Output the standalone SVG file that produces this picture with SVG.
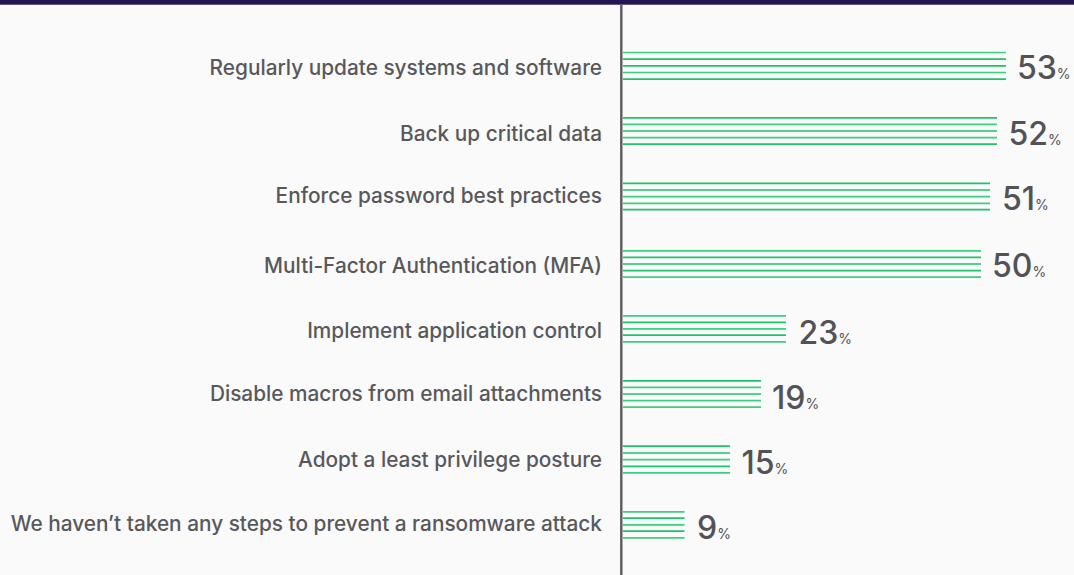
<svg xmlns="http://www.w3.org/2000/svg" width="1074" height="575" viewBox="0 0 1074 575">
<style>
.lbl{font-family:Inter,"Noto Sans",sans-serif;font-size:20.8px;font-weight:500;fill:#58585c;text-anchor:end}
.num{font-family:Inter,"Noto Sans",sans-serif;font-size:32px;font-weight:500;fill:#525257}
.pct{font-size:14px;font-weight:400}
.bar line{stroke:#1ec36b;stroke-width:1.7}
.bar line.l{stroke:#3ccf81}
</style>
<rect x="0" y="0" width="1074" height="575" fill="#fafafa"/>
<rect x="0" y="0" width="1074" height="4.7" fill="#231552"/>
<g id="connectors">
<line x1="621.3" y1="4.7" x2="621.3" y2="575" stroke="#5b5b60" stroke-width="2.4"/>
</g>
<g id="row1">
<text class="lbl" x="602" y="75">Regularly update systems and software</text>
<g class="bar"><line class="l" x1="623" y1="52.5" x2="1006" y2="52.5"/><line x1="623" y1="59.2" x2="1006" y2="59.2"/><line x1="623" y1="65.8" x2="1006" y2="65.8"/><line class="l" x1="623" y1="72.5" x2="1006" y2="72.5"/><line x1="623" y1="79.2" x2="1006" y2="79.2"/></g>
<text class="num" x="1017" y="79">53<tspan class="pct">%</tspan></text>
</g>
<g id="row2">
<text class="lbl" x="602" y="140.5">Back up critical data</text>
<g class="bar"><line x1="623" y1="117.8" x2="997" y2="117.8"/><line class="l" x1="623" y1="124.4" x2="997" y2="124.4"/><line x1="623" y1="131" x2="997" y2="131"/><line class="l" x1="623" y1="137.7" x2="997" y2="137.7"/><line x1="623" y1="144.2" x2="997" y2="144.2"/></g>
<text class="num" x="1008.5" y="145">52<tspan class="pct">%</tspan></text>
</g>
<g id="row3">
<text class="lbl" x="602" y="203">Enforce password best practices</text>
<g class="bar"><line x1="623" y1="183.4" x2="990" y2="183.4"/><line x1="623" y1="190" x2="990" y2="190"/><line class="l" x1="623" y1="196.7" x2="990" y2="196.7"/><line class="l" x1="623" y1="203.3" x2="990" y2="203.3"/><line x1="623" y1="209.6" x2="990" y2="209.6"/></g>
<text class="num" x="1002" y="209.5">51<tspan class="pct">%</tspan></text>
</g>
<g id="row4">
<text class="lbl" x="602" y="273">Multi-Factor Authentication (MFA)</text>
<g class="bar"><line class="l" x1="623" y1="250.8" x2="981" y2="250.8"/><line x1="623" y1="257.3" x2="981" y2="257.3"/><line x1="623" y1="264" x2="981" y2="264"/><line x1="623" y1="270.7" x2="981" y2="270.7"/><line class="l" x1="623" y1="277.2" x2="981" y2="277.2"/></g>
<text class="num" x="992" y="277">50<tspan class="pct">%</tspan></text>
</g>
<g id="row5">
<text class="lbl" x="602" y="338">Implement application control</text>
<g class="bar"><line class="l" x1="623" y1="315.8" x2="786" y2="315.8"/><line x1="623" y1="322.3" x2="786" y2="322.3"/><line class="l" x1="623" y1="328.8" x2="786" y2="328.8"/><line x1="623" y1="335.1" x2="786" y2="335.1"/><line class="l" x1="623" y1="341.8" x2="786" y2="341.8"/></g>
<text class="num" x="798.5" y="344">23<tspan class="pct">%</tspan></text>
</g>
<g id="row6">
<text class="lbl" x="602" y="401">Disable macros from email attachments</text>
<g class="bar"><line x1="623" y1="380.8" x2="761" y2="380.8"/><line class="l" x1="623" y1="387.4" x2="761" y2="387.4"/><line x1="623" y1="394" x2="761" y2="394"/><line class="l" x1="623" y1="400.7" x2="761" y2="400.7"/><line class="l" x1="623" y1="407.1" x2="761" y2="407.1"/></g>
<text class="num" x="772" y="408.5">19<tspan class="pct">%</tspan></text>
</g>
<g id="row7">
<text class="lbl" x="602" y="467">Adopt a least privilege posture</text>
<g class="bar"><line x1="623" y1="446.1" x2="730" y2="446.1"/><line x1="623" y1="453" x2="730" y2="453"/><line class="l" x1="623" y1="459.7" x2="730" y2="459.7"/><line x1="623" y1="466.3" x2="730" y2="466.3"/><line class="l" x1="623" y1="472.8" x2="730" y2="472.8"/></g>
<text class="num" x="741.5" y="473.5">15<tspan class="pct">%</tspan></text>
</g>
<g id="row8">
<text class="lbl" x="602" y="531">We haven’t taken any steps to prevent a ransomware attack</text>
<g class="bar"><line class="l" x1="623" y1="511.8" x2="684.5" y2="511.8"/><line x1="623" y1="518.2" x2="684.5" y2="518.2"/><line class="l" x1="623" y1="524.8" x2="684.5" y2="524.8"/><line x1="623" y1="531.1" x2="684.5" y2="531.1"/><line class="l" x1="623" y1="537.8" x2="684.5" y2="537.8"/></g>
<text class="num" x="697" y="539">9<tspan class="pct">%</tspan></text>
</g>
</svg>
